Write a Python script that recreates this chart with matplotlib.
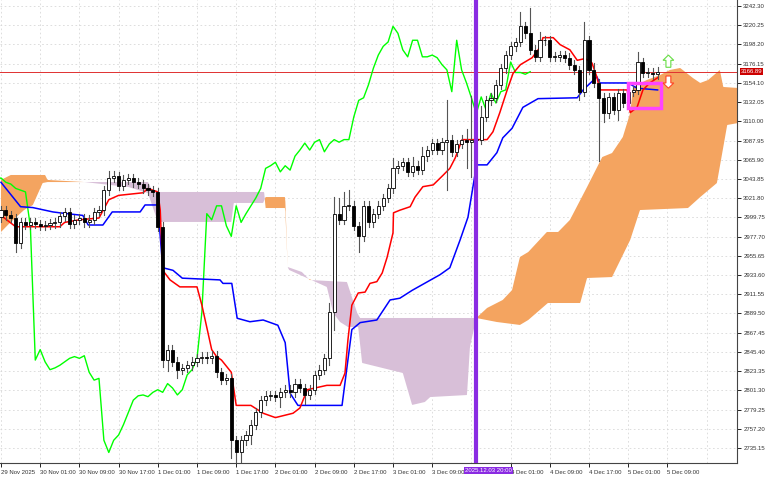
import numpy as np
import matplotlib
matplotlib.use("Agg")
import matplotlib.pyplot as plt
from matplotlib.patches import Rectangle, FancyArrow

plt.rcParams['font.family'] = ['Liberation Sans', 'DejaVu Sans']

# H1 closes, bar 0 = 29 Nov 2025 17:00
closes = [3008, 3002, 2999, 2970, 2994, 2991, 2994, 2992, 2990, 2991,
          2993, 2994, 3001, 3006, 2992, 2997, 2999, 2994, 2997, 3006,
          3008, 3031, 3045, 3047, 3036, 3043, 3045, 3040, 3038, 3033,
          3031, 3029, 2989, 2836, 2848, 2834, 2825, 2827, 2830, 2834,
          2838, 2840, 2838, 2841, 2822, 2813, 2815, 2744, 2730, 2744,
          2750, 2762, 2776, 2790, 2795, 2796, 2794, 2799, 2802, 2799,
          2809, 2804, 2796, 2802, 2819, 2825, 2838, 2891, 3004, 2997,
          3013, 3013, 2990, 2978, 3013, 2994, 3004, 3013, 3022, 3033,
          3056, 3059, 3063, 3052, 3059, 3054, 3070, 3077, 3085, 3077,
          3086, 3089, 3075, 3084, 3089, 3086, 3089, 3089, 3115, 3134,
          3137, 3152, 3171, 3186, 3196, 3201, 3219, 3211, 3192, 3184,
          3203, 3203, 3184, 3184, 3186, 3183, 3175, 3169, 3144, 3203,
          3169, 3154, 3137, 3119, 3138, 3123, 3142, 3131, 3144, 3146,
          3178, 3166, 3166, 3164, 3166.89]
first_open = 3000
# wick sizes (price units); bars not listed use the default
wick_default = 5
upper_wick = {22: 8, 23: 6, 67: 10, 68: 19, 69: 18, 70: 16, 71: 18, 80: 12, 84: 10,
              86: 10, 91: 45, 95: 12, 96: 50, 97: 30, 98: 12, 106: 16, 108: 29,
              110: 10, 119: 21, 130: 12, 121: 8}
lower_wick = {3: 10, 33: 8, 34: 12, 36: 10, 47: 20, 48: 12, 49: 15, 51: 10, 57: 12,
              62: 10, 67: 8, 68: 20, 73: 18, 91: 55, 95: 30, 96: 40, 118: 10,
              122: 72, 123: 10, 126: 12}

# Ichimoku lines (bar index, price)
tenkan_bar = [0, 3, 12, 13, 16, 20, 22, 24, 29, 30, 32, 32.5, 33, 34.5, 36.5, 40, 41, 43, 44, 45,
              47, 48, 51, 53.5, 56, 59.6, 61, 62.5, 66.5, 69.2, 70.2, 70.8, 71.6, 72.9, 74.3, 75.3,
              76.7, 77.8, 78.8, 80, 80.1, 81.4, 83.5, 84.5, 86.1, 88.2, 90.2, 91.6, 92.7, 94.1,
              99.2, 100.4, 101.8, 103.3, 104.5, 106, 108.4, 110, 110.6, 112.7, 114.1, 116.1,
              117.6, 119.2, 120.6, 121.6, 122.2, 127.8, 128.4, 129.8, 131, 132.4, 134]
tenkan_val = [3002, 2989, 2989, 2994, 2997, 2999, 3020, 3025, 3028, 3033, 3029, 3008, 2939, 2928,
              2920, 2920, 2899, 2848, 2840, 2836, 2822, 2784, 2784, 2775, 2770, 2775, 2781, 2802,
              2807, 2807, 2821, 2859, 2899, 2913, 2914, 2924, 2926, 2936, 2954, 2982, 3005, 3008,
              3012, 3023, 3035, 3037, 3048, 3056, 3068, 3089, 3089, 3098, 3120, 3146, 3165, 3175,
              3183, 3195, 3206, 3206, 3198, 3192, 3180, 3182, 3177, 3161, 3146, 3146, 3120, 3126,
              3146, 3154, 3160]
kijun_bar = [0, 4, 6.5, 10.6, 12, 16.7, 17.8, 20.8, 22.7, 28.4, 29.4, 32, 33, 35.1, 37, 44.7,
             45.3, 47.1, 48.2, 50.8, 53.5, 56.5, 58, 59, 60.6, 69.6, 71.6, 73.3, 76.7, 79.4, 81.4,
             83.9, 89.6, 91.6, 93.7, 95.3, 96.7, 97.1, 99.2, 101.2, 102.4, 104.3, 106.5, 109.6,
             117.6, 118.8, 121.6, 122.2, 128, 129.8, 134]
kijun_val = [3040, 3012, 3011, 3006, 3005, 3002, 2991, 2991, 3006, 3006, 3014, 3014, 2942, 2939,
             2930, 2928, 2924, 2924, 2884, 2880, 2882, 2876, 2856, 2798, 2784, 2784, 2871, 2879,
             2882, 2905, 2907, 2916, 2934, 2942, 2974, 3000, 3048, 3060, 3060, 3074, 3091, 3102,
             3126, 3136, 3137, 3146, 3161, 3154, 3154, 3148, 3146]
span_a_bar = [0, 2, 9, 9.5, 17, 26, 30, 32, 47, 47.5, 53.5, 54, 58, 58.5, 58.8, 66.5, 67.8, 69.2,
              70.8, 72.9, 73.7, 82, 83.9, 86.5, 87.6, 95.1, 95.7, 97, 99.2, 102.4, 104.3, 105.9,
              107.6, 111.4, 113.7, 116.1, 119.6, 122.7, 124.7, 126.9, 128.4, 129, 131.8, 134.5,
              136.5, 138.6, 141.2, 142.7, 144.3, 146.7, 147.4, 150.5]
span_a_val = [3042.7, 3048.4, 3048.4, 3042.7, 3040.3, 3034.6, 3027.7, 2994.5, 2994.5, 3016.3,
              3016.3, 3023.1, 3023.1, 2942.8, 2939.4, 2919.9, 2890.0, 2879.7, 2874.0, 2874.0,
              2832.7, 2821.2, 2784.5, 2787.9, 2793.6, 2795.9, 2851.0, 2884.3, 2895.8, 2905.0,
              2916.4, 2954.3, 2960.0, 2983.0, 2983.0, 2996.8, 3034.6, 3069.0, 3073.6, 3092.0,
              3119.5, 3149.4, 3157.4, 3163.1, 3168.9, 3171.2, 3159.7, 3154.0, 3157.4, 3168.9,
              3149.4, 3148.2]
span_b_bar = [0, 1.8, 4.7, 6.5, 8.5, 9.5, 30, 31, 53.7, 54, 58, 58.5, 61.4, 63, 70.6, 72.7, 73.3,
              97, 101.2, 105.9, 107.6, 111.6, 118.2, 119.6, 124.7, 128.4, 130.4, 140.2, 142.7,
              146.1, 148.2, 150.5]
span_b_val = [2983.0, 2993.3, 3008.2, 3013.9, 3039.2, 3040.3, 3040.3, 3028.9, 3028.9, 3010.5,
              3010.5, 2942.8, 2937.1, 2927.9, 2925.6, 2890.0, 2884.3, 2884.3, 2879.7, 2876.3,
              2882.0, 2901.5, 2901.5, 2930.2, 2931.3, 2973.8, 3008.2, 3010.5, 3023.1, 3039.2,
              3105.8, 3108.1]
chikou_shift = 26

price_ticks = [2735.15, 2757.20, 2779.25, 2801.30, 2823.35, 2845.40, 2867.45, 2889.50, 2911.55,
               2933.60, 2955.65, 2977.70, 2999.75, 3021.80, 3043.85, 3065.90, 3087.95, 3110.00,
               3132.05, 3154.10, 3176.15, 3198.20, 3220.25, 3242.30]
time_labels = ["29 Nov 2025", "30 Nov 01:00", "30 Nov 09:00", "30 Nov 17:00", "1 Dec 01:00",
               "1 Dec 09:00", "1 Dec 17:00", "2 Dec 01:00", "2 Dec 09:00", "2 Dec 17:00",
               "3 Dec 01:00", "3 Dec 09:00", "4 Dec 01:00", "4 Dec 09:00", "4 Dec 17:00",
               "5 Dec 01:00", "5 Dec 09:00"]
time_bars = [0, 8, 16, 24, 32, 40, 48, 56, 64, 72, 80, 88, 104, 112, 120, 128, 136]
grid_bars = [0, 8, 16, 24, 32, 40, 48, 56, 64, 72, 80, 88, 96, 104, 112, 120, 128, 136, 144]
current_price = 3166.89
marker_bar = 97
marker_label = "2025.12.03 20:00"
box_bars = (128, 134.6)
box_prices = (3125, 3154)

fig = plt.figure(figsize=(7.68, 4.8), dpi=100)
ax = fig.add_axes([0, 17 / 480, 737 / 768, 463 / 480])
ax.set_xlim(-0.2, 150.2)
ax.set_ylim(2717.9, 3249.2)

# cloud
grid = np.linspace(0, 150.5, 1500)
a = np.interp(grid, span_a_bar, span_a_val)
b = np.interp(grid, span_b_bar, span_b_val)
ax.fill_between(grid, a, b, where=a >= b, color="#F4A460", lw=0, interpolate=True, zorder=1)
ax.fill_between(grid, a, b, where=a < b, color="#D8BFD8", lw=0, interpolate=True, zorder=1)

for y in price_ticks:
    ax.axhline(y, color="#d8d8d8", lw=0.6, ls=(0, (2, 3)), zorder=0)
for xb in grid_bars:
    ax.axvline(xb, color="#d8d8d8", lw=0.6, ls=(0, (2, 3)), zorder=0)

# chikou
cl = np.array(closes)
ax.plot(np.arange(len(cl)) - chikou_shift, cl, color="#00FF00", lw=1, zorder=3)
ax.plot(kijun_bar, kijun_val, color="#0000FF", lw=1.1, zorder=3)
ax.plot(tenkan_bar, tenkan_val, color="#FF0000", lw=1.1, zorder=3)

# candles
opens = [first_open] + closes[:-1]
for i, (o, c) in enumerate(zip(opens, closes)):
    hi = max(o, c) + upper_wick.get(i, wick_default)
    lo = min(o, c) - lower_wick.get(i, wick_default)
    ax.plot([i, i], [lo, hi], color="#555555", lw=0.8, zorder=4)
    up = c >= o
    ax.add_patch(Rectangle((i - 0.32, min(o, c)), 0.64, max(abs(c - o), 0.8),
                           facecolor="white" if up else "black", edgecolor="black",
                           lw=0.6, zorder=5))

ax.axhline(current_price, color="#E03030", lw=0.7, zorder=2)
ax.axvline(marker_bar, color="#8A2BE2", lw=3, zorder=6)
ax.add_patch(Rectangle((box_bars[0], box_prices[0]), box_bars[1] - box_bars[0],
                       box_prices[1] - box_prices[0], fill=False, edgecolor="#FF44FF",
                       lw=2.5, zorder=7))
ax.add_patch(FancyArrow(136.2, 3172, 0, 14, width=1.0, head_width=2.2, head_length=6,
                        length_includes_head=True, facecolor="white", edgecolor="#66DD44",
                        lw=0.8, zorder=7))
ax.add_patch(FancyArrow(136.2, 3162, 0, -14, width=1.0, head_width=2.2, head_length=6,
                        length_includes_head=True, facecolor="white", edgecolor="#FF4422",
                        lw=0.8, zorder=7))

for s in ["top", "left"]:
    ax.spines[s].set_visible(False)
ax.spines["right"].set_color("#444444")
ax.spines["bottom"].set_color("#444444")
ax.yaxis.tick_right()
ax.set_yticks(price_ticks)
ax.set_yticklabels([f"{p:.2f}" for p in price_ticks], fontsize=4.3, color="#333333")
ax.tick_params(axis="y", length=3, width=0.6, pad=1.5)
ax.set_xticks(time_bars)
ax.set_xticklabels(time_labels, fontsize=4.3, color="#333333", ha="left")
ax.tick_params(axis="x", length=3, width=0.6, pad=2)

ax.text(150.9, current_price, f"{current_price:.2f}", fontsize=4.3, color="white",
        va="center", ha="left", zorder=8, clip_on=False,
        bbox=dict(boxstyle="square,pad=0.15", fc="#CC0000", ec="none"))
ax.text(marker_bar - 2.3, 2717.9 - 6, marker_label, fontsize=4.3, color="white", va="top",
        ha="left", clip_on=False,
        bbox=dict(boxstyle="square,pad=0.15", fc="#8A2BE2", ec="none"))

fig.savefig("out.png", dpi=100)
